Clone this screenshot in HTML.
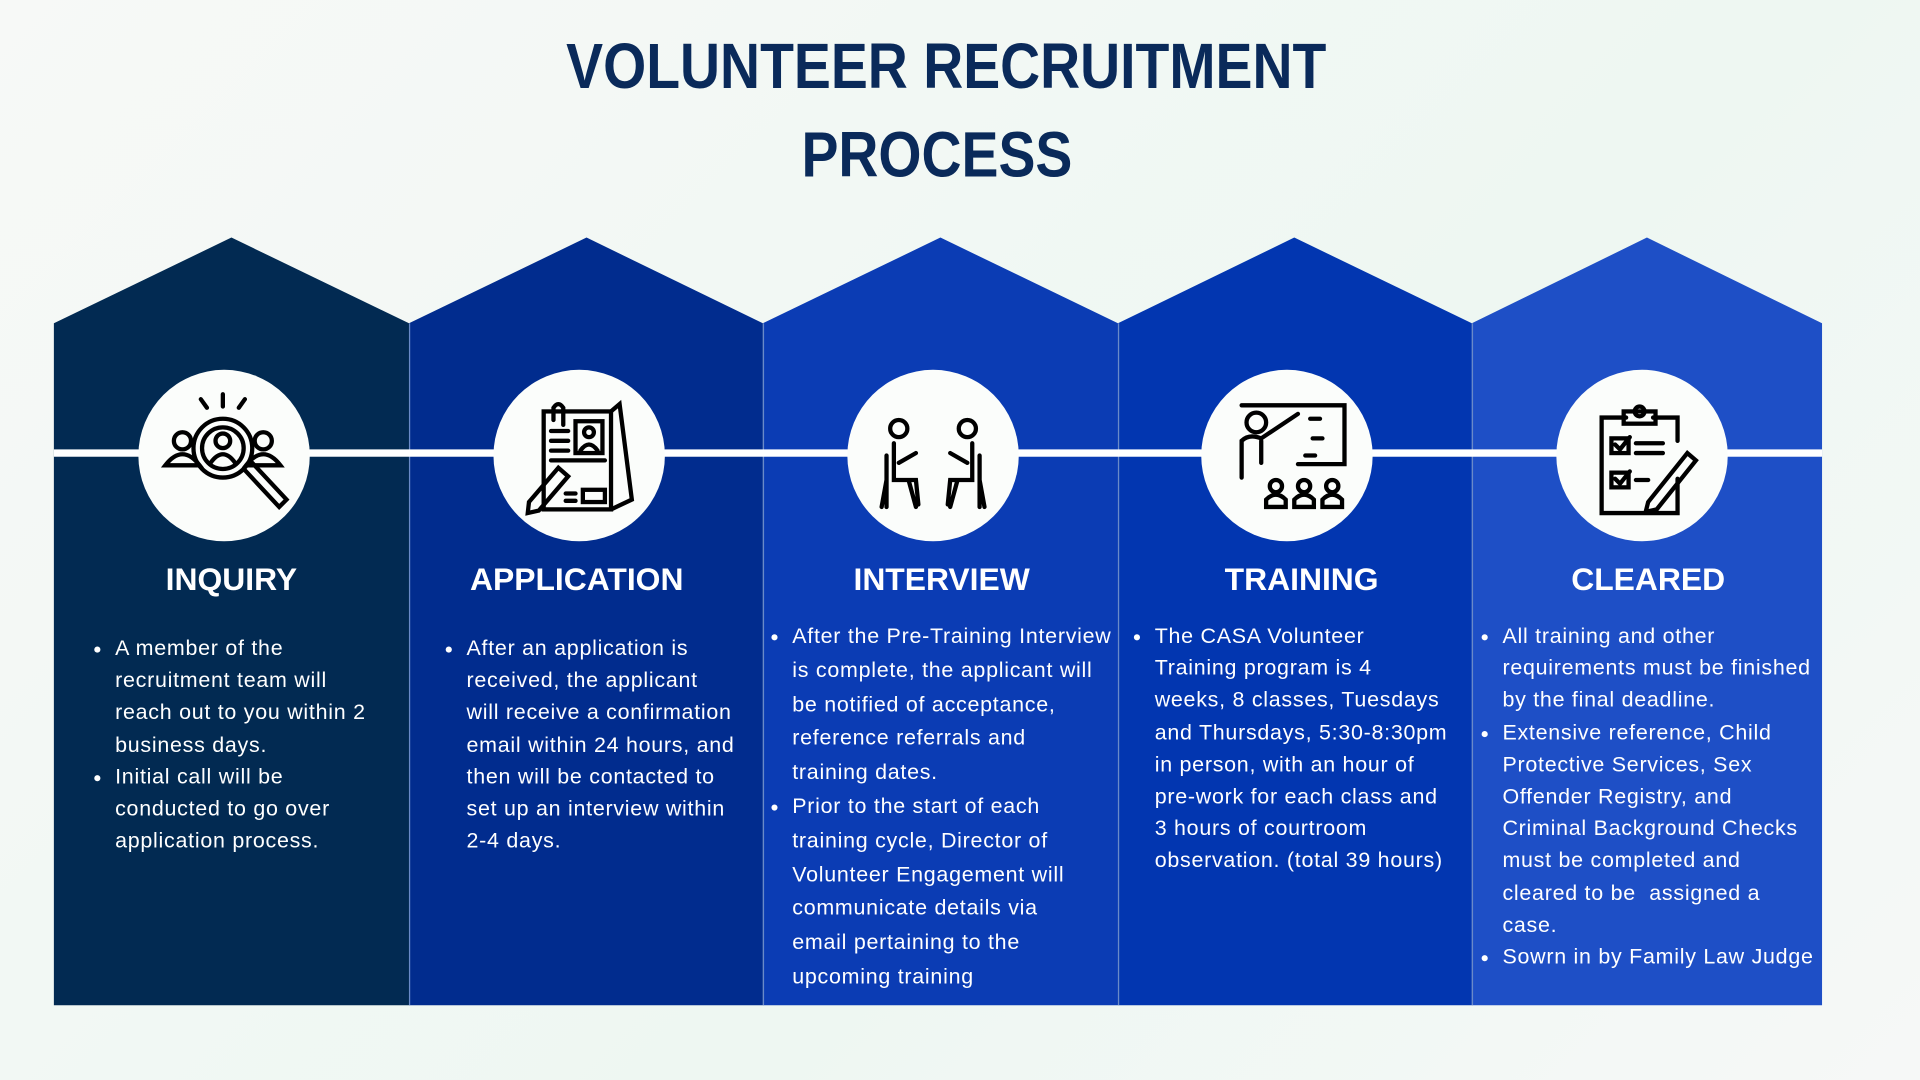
<!DOCTYPE html>
<html><head><meta charset="utf-8"><style>
html,body{margin:0;padding:0;width:1920px;height:1080px;overflow:hidden;background:#f4f8f5;}
#s{position:absolute;left:0;top:0;width:1568px;height:882px;transform:scale(1.22449);transform-origin:0 0;font-family:"Liberation Sans",sans-serif;background:linear-gradient(135deg,#f7f9f7,#eef7f2 60%,#f6f8f7);}
.h{position:absolute;text-align:center;font-size:52px;line-height:72px;color:#0a2a5a;font-weight:bold;}
.h span{display:inline-block;transform:scaleX(0.87);}
.t{position:absolute;top:458px;font-size:26px;font-weight:bold;color:#fff;text-align:center;}
ul{position:absolute;margin:0;padding:0 0 0 20px;color:#fff;font-size:17.5px;list-style:disc;white-space:nowrap;letter-spacing:0.6px;}
</style></head><body><div id="s">
<div class="h" style="top:19px;left:0;width:1546px"><span>VOLUNTEER RECRUITMENT</span></div>
<div class="h" style="top:91px;left:0;width:1530px"><span>PROCESS</span></div>
<svg width="1568" height="882" style="position:absolute;left:0;top:0">
<polygon points="44,264 189,194 334,264 334,821 44,821" fill="#022a52"/>
<polygon points="334,264 479,194 623,264 623,821 334,821" fill="#012c8e"/>
<polygon points="623,264 768,194 913,264 913,821 623,821" fill="#0b3cb4"/>
<polygon points="913,264 1057,194 1202,264 1202,821 913,821" fill="#0236b0"/>
<polygon points="1202,264 1345,194 1488,264 1488,821 1202,821" fill="#1e4fc6"/>
<g stroke="#6a8ac8" stroke-width="1"><line x1="334.5" y1="264" x2="334.5" y2="821"/><line x1="623.5" y1="264" x2="623.5" y2="821"/><line x1="913.5" y1="264" x2="913.5" y2="821"/><line x1="1202.5" y1="264" x2="1202.5" y2="821"/></g>
<rect x="44" y="367" width="1444" height="6" fill="#fff"/>
<g fill="#fbfdfb"><circle cx="183" cy="372" r="70"/><circle cx="473" cy="372" r="70"/><circle cx="762" cy="372" r="70"/><circle cx="1051" cy="372" r="70"/><circle cx="1341" cy="372" r="70"/></g>
<g fill="none" stroke="#000" stroke-width="3.5" stroke-linecap="round">
<line x1="182" y1="322" x2="182" y2="332"/><line x1="164" y1="326" x2="169" y2="333"/><line x1="200" y1="326" x2="195" y2="333"/>
<circle cx="182" cy="366" r="24"/><circle cx="182" cy="366" r="17"/><circle cx="182" cy="360" r="6"/><path d="M172 378 q10 -14 20 0"/>
<circle cx="149" cy="360" r="7"/><path d="M135 380 q14 -18 28 0 z"/><circle cx="215" cy="360" r="7"/><path d="M201 380 q14 -18 28 0 z"/>
<path d="M200 384 l28 30 l6 -6 l-28 -30"/>
<rect x="444" y="336" width="55" height="80"/><path d="M499 336 l7 -6 l10 78 l-17 8"/>
<rect x="470" y="344" width="22" height="26"/><circle cx="481" cy="353" r="4"/><path d="M474 368 q7 -10 14 0"/>
<line x1="450" y1="352" x2="464" y2="352"/><line x1="450" y1="360" x2="464" y2="360"/><line x1="450" y1="368" x2="464" y2="368"/><line x1="450" y1="376" x2="494" y2="376"/>
<path d="M432 410 l24 -28 l8 7 l-24 28 l-9 2 z"/><rect x="476" y="400" width="18" height="10"/><line x1="462" y1="403" x2="470" y2="403"/><line x1="462" y1="409" x2="470" y2="409"/>
<path d="M452 343 v-10 q4 -6 8 0 v14"/>
<circle cx="734" cy="350" r="7"/><circle cx="790" cy="350" r="7"/>
<path d="M730 362 v30 h18 l2 20 M734 378 l14 -8 M724 372 v42 M724 392 l-4 22 M742 392 l6 22"/>
<path d="M794 362 v30 h-18 l-2 20 M790 378 l-14 -8 M800 372 v42 M800 392 l4 22 M782 392 l-6 22"/>
<path d="M1014 331 h84 v48 h-38"/><line x1="1070" y1="342" x2="1078" y2="342"/><line x1="1072" y1="358" x2="1080" y2="358"/><line x1="1066" y1="372" x2="1074" y2="372"/>
<circle cx="1026" cy="345" r="8"/><path d="M1014 390 v-30 q6 -6 16 -2 l30 -20 M1030 360 v18"/>
<circle cx="1042" cy="397" r="5"/><path d="M1034 414 v-6 q8 -8 16 0 v6 z"/><circle cx="1065" cy="397" r="5"/><path d="M1057 414 v-6 q8 -8 16 0 v6 z"/><circle cx="1088" cy="397" r="5"/><path d="M1080 414 v-6 q8 -8 16 0 v6 z"/>
<path d="M1328 341 h-20 v78 h62 v-28 M1370 360 v-19 h-20"/><rect x="1326" y="336" width="26" height="10"/><circle cx="1339" cy="336" r="4"/>
<rect x="1316" y="358" width="14" height="12"/><path d="M1319 363 l4 4 l8 -10"/><line x1="1336" y1="362" x2="1358" y2="362"/><line x1="1336" y1="370" x2="1358" y2="370"/>
<rect x="1316" y="386" width="14" height="12"/><path d="M1319 391 l4 4 l8 -10"/><line x1="1336" y1="392" x2="1346" y2="392"/>
<path d="M1346 410 l32 -40 l7 6 l-32 40 l-9 2 z"/>
</g>
</svg>
<div class="t" style="left:44px;width:290px">INQUIRY</div>
<div class="t" style="left:326px;width:290px">APPLICATION</div>
<div class="t" style="left:623px;width:292px">INTERVIEW</div>
<div class="t" style="left:918px;width:290px">TRAINING</div>
<div class="t" style="left:1202px;width:288px">CLEARED</div>
<ul style="left:74px;top:516px;line-height:26.2px"><li>A member of the<br>recruitment team will<br>reach out to you within 2<br>business days.</li><li>Initial call will be<br>conducted to go over<br>application process.</li></ul>
<ul style="left:361px;top:516px;line-height:26.2px"><li>After an application is<br>received, the applicant<br>will receive a confirmation<br>email within 24 hours, and<br>then will be contacted to<br>set up an interview within<br>2-4 days.</li></ul>
<ul style="left:627px;top:506px;line-height:27.8px"><li>After the Pre-Training Interview<br>is complete, the applicant will<br>be notified of acceptance,<br>reference referrals and<br>training dates.</li><li>Prior to the start of each<br>training cycle, Director of<br>Volunteer Engagement will<br>communicate details via<br>email pertaining to the<br>upcoming training</li></ul>
<ul style="left:923px;top:506px;line-height:26.2px"><li>The CASA Volunteer<br>Training program is 4<br>weeks, 8 classes, Tuesdays<br>and Thursdays, 5:30-8:30pm<br>in person, with an hour of<br>pre-work for each class and<br>3 hours of courtroom<br>observation. (total 39 hours)</li></ul>
<ul style="left:1207px;top:506px;line-height:26.2px"><li>All training and other<br>requirements must be finished<br>by the final deadline.</li><li>Extensive reference, Child<br>Protective Services, Sex<br>Offender Registry, and<br>Criminal Background Checks<br>must be completed and<br>cleared to be&nbsp; assigned a<br>case.</li><li>Sowrn in by Family Law Judge</li></ul>
</div></body></html>
